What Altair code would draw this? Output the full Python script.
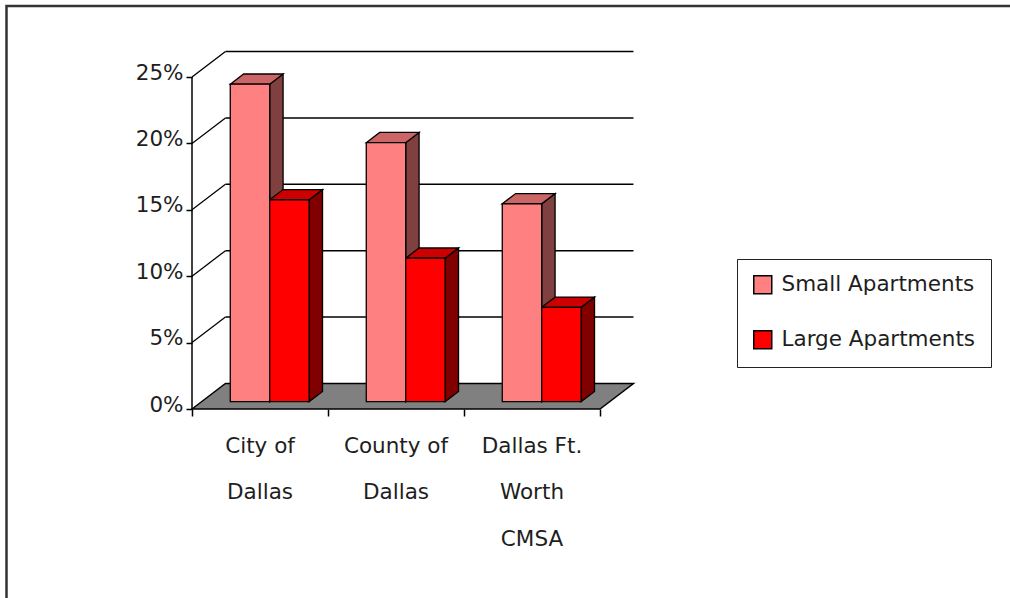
import altair as alt
import pandas as pd

# ---- chart values -------------------------------------------------------
categories = ["City of\nDallas", "County of\nDallas", "Dallas Ft.\nWorth\nCMSA"]
series = ["Small Apartments", "Large Apartments"]
small_apartments = [23.9, 19.5, 14.9]
large_apartments = [15.2, 10.8, 7.1]
y_ticks = [0, 5, 10, 15, 20, 25]

front_colors = ["#FF8080", "#FF0000"]
side_colors = ["#804040", "#800000"]
top_colors = ["#CC6666", "#CC0000"]

# ---- oblique 3-D projection ---------------------------------------------
# one full unit of depth shifts a point DX categories right and DY percent up
DX = 0.246
DY = 1.92
D0 = 0.29      # depth of the bar front faces
T = 0.40       # bar thickness along depth
MARGIN = 0.21  # gap between a category edge and its first bar
BW = 0.29      # bar width in category units

PX_CAT = 136.0   # pixels per category
PX_PCT = 13.28   # pixels per percentage point
W, H = 450, 372
FONT = "DejaVu Sans"
FONT_SIZE = 21.5
TEXT_COLOR = "#1e1e1e"
n_cat = len(categories)

xs = alt.Scale(domain=[0, W / PX_CAT], nice=False, zero=False)
ys = alt.Scale(domain=[0, H / PX_PCT], nice=False, zero=False)
x_axis = alt.Axis(values=list(range(n_cat + 1)), labels=False, domain=False,
                  grid=False, ticks=True, tickSize=7, tickColor="black",
                  tickWidth=1.5, title=None)
y_axis = alt.Axis(values=y_ticks, labelExpr="datum.value + '%'", domain=False,
                  grid=False, ticks=True, tickSize=6, tickColor="black",
                  tickWidth=1.5, labelPadding=3, labelOffset=-4, labelFont=FONT,
                  labelFontSize=FONT_SIZE, labelColor=TEXT_COLOR, title=None)


def X(field):
    return alt.X(field, type="quantitative", scale=xs, axis=x_axis)


def Y(field):
    return alt.Y(field, type="quantitative", scale=ys, axis=y_axis, stack=None)


# ---- floor, walls and axis line -----------------------------------------
floor = pd.DataFrame({
    "x": [0, DX, n_cat, n_cat + DX],
    "y": [0, DY, DY, DY],
    "y2": [0, 0, 0, DY],
})
back_grid = pd.DataFrame({
    "x": [DX] * (len(y_ticks) - 1),
    "x2": [n_cat + DX] * (len(y_ticks) - 1),
    "y": [v + DY for v in y_ticks[1:]],
})
side_grid = pd.DataFrame({
    "x": [0] * (len(y_ticks) - 1),
    "x2": [DX] * (len(y_ticks) - 1),
    "y": y_ticks[1:],
    "y2": [v + DY for v in y_ticks[1:]],
})
axis_line = pd.DataFrame({"x": [0], "y": [0], "y2": [max(y_ticks)]})

# ---- bar faces ----------------------------------------------------------
fronts, sides, tops = [], [], []
for i in range(n_cat):
    for k, vals in enumerate([small_apartments, large_apartments]):
        v = vals[i]
        xl = i + MARGIN + k * BW + D0 * DX
        xr = xl + BW
        bf = D0 * DY
        bb = (D0 + T) * DY
        fid = f"{i}-{k}"
        fronts.append(dict(series=series[k], x=xl, x2=xr, y=bf, y2=v + bf))
        sides += [
            dict(face=fid, shade=side_colors[k], x=xr, y=v + bf, y2=bf),
            dict(face=fid, shade=side_colors[k], x=xr + T * DX, y=v + bb, y2=bb),
        ]
        tops += [
            dict(face=fid, shade=top_colors[k], x=xl, y=v + bf, y2=v + bf),
            dict(face=fid, shade=top_colors[k], x=xl + T * DX, y=v + bb, y2=v + bf),
            dict(face=fid, shade=top_colors[k], x=xr, y=v + bb, y2=v + bf),
            dict(face=fid, shade=top_colors[k], x=xr + T * DX, y=v + bb, y2=v + bb),
        ]
fronts = pd.DataFrame(fronts)
sides = pd.DataFrame(sides)
tops = pd.DataFrame(tops)
labels = pd.DataFrame({"x": [i + 0.5 for i in range(n_cat)], "label": categories})

# ---- layers -------------------------------------------------------------
floor_layer = alt.Chart(floor).mark_area(
    fill="#808080", stroke="black", strokeWidth=1.5, interpolate="linear"
).encode(x=X("x"), y=Y("y"), y2="y2")

back_layer = alt.Chart(back_grid).mark_rule(color="black", strokeWidth=1.5).encode(
    x=X("x"), x2="x2", y=Y("y"))

side_wall_layer = alt.Chart(side_grid).mark_rule(color="black", strokeWidth=1.3).encode(
    x=X("x"), x2="x2", y=Y("y"), y2="y2")

axis_layer = alt.Chart(axis_line).mark_rule(color="black", strokeWidth=1.5).encode(
    x=X("x"), y=Y("y"), y2="y2")

side_layer = alt.Chart(sides).mark_area(
    stroke="black", strokeWidth=1.3, strokeJoin="miter", interpolate="linear"
).encode(x=X("x"), y=Y("y"), y2="y2",
         fill=alt.Fill("shade:N", scale=None), detail="face:N")

top_layer = alt.Chart(tops).mark_area(
    stroke="black", strokeWidth=1.3, strokeJoin="miter", interpolate="linear"
).encode(x=X("x"), y=Y("y"), y2="y2",
         fill=alt.Fill("shade:N", scale=None), detail="face:N")

front_layer = alt.Chart(fronts).mark_rect(
    stroke="black", strokeWidth=1.3, opacity=1
).encode(
    x=X("x"), x2="x2", y=Y("y"), y2="y2",
    color=alt.Color(
        "series:N",
        scale=alt.Scale(domain=series, range=front_colors),
        legend=alt.Legend(
            title=None, orient="none", legendX=545, legendY=222,
            symbolType="square", symbolSize=324, symbolStrokeColor="black",
            symbolStrokeWidth=1.5, symbolOpacity=1,
            labelFont=FONT, labelFontSize=FONT_SIZE, labelColor=TEXT_COLOR,
            labelOffset=8, labelLimit=0, rowPadding=30, padding=15,
            strokeColor="#222222",
        ),
    ),
)

label_layer = alt.Chart(labels).mark_text(
    font=FONT, fontSize=FONT_SIZE, color=TEXT_COLOR, align="center",
    baseline="alphabetic", lineBreak="\n", lineHeight=46.5,
).encode(x=X("x"), y=alt.value(415.5), text="label:N")

frame_layer = alt.Chart(pd.DataFrame({"a": [0]})).mark_rect(
    filled=False, stroke="#333333", strokeWidth=2.5
).encode(x=alt.value(-185.5), x2=alt.value(900), y=alt.value(-31), y2=alt.value(650))

chart = alt.layer(
    floor_layer, back_layer, side_wall_layer, axis_layer,
    side_layer, top_layer, front_layer, label_layer, frame_layer,
).properties(
    width=W, height=H,
    padding={"left": 192, "top": 37, "right": 1010 - 192 - W, "bottom": 598 - 37 - H},
    autosize=alt.AutoSizeParams(type="none"),
    background="white",
).configure_view(strokeWidth=0)

chart.save("out.html", embed_options={"renderer": "svg", "actions": False})
